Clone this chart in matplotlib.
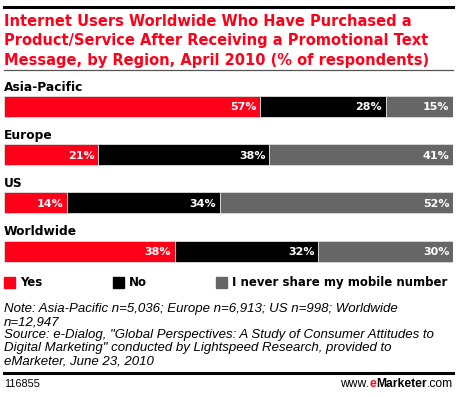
import matplotlib
matplotlib.use("Agg")
import matplotlib.pyplot as plt
from matplotlib.patches import Rectangle
from matplotlib.lines import Line2D

# data
regions = ["Asia-Pacific", "Europe", "US", "Worldwide"]
yes = [57, 21, 14, 38]
no = [28, 38, 34, 32]
never = [15, 41, 52, 30]
series_names = ["Yes", "No", "I never share my mobile number"]
colors = ["#FF0019", "#000000", "#666666"]

title = ("Internet Users Worldwide Who Have Purchased a\n"
         "Product/Service After Receiving a Promotional Text\n"
         "Message, by Region, April 2010 (% of respondents)")
note = ("Note: Asia-Pacific n=5,036; Europe n=6,913; US n=998; Worldwide\n"
        "n=12,947\n"
        "Source: e-Dialog, \"Global Perspectives: A Study of Consumer Attitudes to\n"
        "Digital Marketing\" conducted by Lightspeed Research, provided to\n"
        "eMarketer, June 23, 2010")

W, H = 459, 397
plt.rcParams["font.family"] = ["Liberation Sans", "DejaVu Sans"]
BOLD = ["DejaVu Sans"]
fig = plt.figure(figsize=(W / 100, H / 100), dpi=100)


def fx(px):
    return px / W


def fy(py):
    return 1 - py / H


# rules
fig.add_artist(Line2D([fx(4), fx(453)], [fy(7), fy(7)], color="black", lw=2.2))
fig.add_artist(Line2D([fx(4), fx(453)], [fy(70), fy(70)], color="#555555", lw=0.9))
fig.add_artist(Line2D([fx(4), fx(453)], [fy(373), fy(373)], color="black", lw=2.2))

fig.text(fx(4), fy(14), title, color="#FF0019", fontsize=10.5, fontweight="bold",
         family=BOLD, va="top", ha="left", linespacing=1.37)

# bars
ax = fig.add_axes([fx(4), fy(275), fx(449), (275 - 80) / H])
pitch = 48.17
ax.set_xlim(0, 100)
ax.set_ylim(3 + (275 - 251) / pitch, -(106.5 - 80) / pitch)
ax.axis("off")

series = [yes, no, never]
for i, reg in enumerate(regions):
    left = 0
    for vals, c in zip(series, colors):
        v = vals[i]
        ax.barh(i, v, left=left, height=21 / pitch, color=c,
                edgecolor="#dddddd", linewidth=0.6)
        ax.text(left + v - 0.8, i + 0.02, f"{v}%", color="white",
                fontsize=8.0, fontweight="bold", family=BOLD,
                ha="right", va="center")
        left += v
    ax.text(0, i - 0.40, reg, color="black", fontsize=8.8,
            fontweight="bold", family=BOLD, ha="left", va="center")

# legend
leg_x = [4, 113, 216]
for x, name, c in zip(leg_x, series_names, colors):
    fig.add_artist(Rectangle((fx(x), fy(288)), fx(11), 11 / H, color=c,
                             transform=fig.transFigure))
    fig.text(fx(x + 16), fy(282.5), name, fontsize=8.5, fontweight="bold",
             family=BOLD, va="center", ha="left")

fig.text(fx(4), fy(303), note, fontsize=9.5, style="italic", va="top",
         ha="left", linespacing=1.12)

fig.text(fx(4), fy(384), "116855", fontsize=7.8, va="center", ha="left")
t = fig.text(fx(453), fy(384), ".com", fontsize=8.7, va="center", ha="right")
fig.canvas.draw()
r = fig.canvas.get_renderer()
bb = t.get_window_extent(r)
t2 = fig.text(bb.x0 / W, fy(384), "Marketer", fontsize=8.7, fontweight="bold",
              va="center", ha="right")
bb2 = t2.get_window_extent(r)
t3 = fig.text(bb2.x0 / W, fy(384), "e", fontsize=8.7, fontweight="bold",
              color="#FF0019", va="center", ha="right")
bb3 = t3.get_window_extent(r)
fig.text(bb3.x0 / W, fy(384), "www.", fontsize=8.7, va="center", ha="right")

fig.savefig("out.png", dpi=100)
